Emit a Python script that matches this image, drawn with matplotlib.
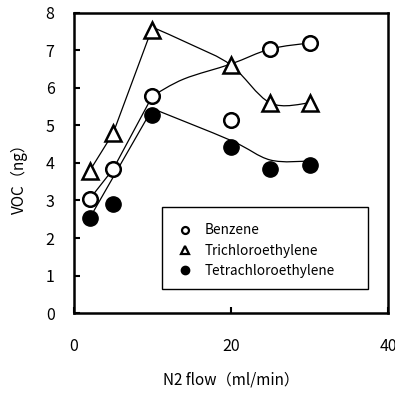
"""
plot.py — VOC recovered vs N2 flow, three compounds with smoothed trend curves.
"""
import matplotlib
matplotlib.use('Agg')
import numpy as np
from matplotlib import pyplot as plt
from matplotlib.path import Path
from matplotlib.patches import PathPatch, Rectangle
from matplotlib.lines import Line2D

plt.rcParams['font.family'] = ['Noto Sans CJK JP', 'DejaVu Sans']

# ------------------------------------------------------------
# Data
# ------------------------------------------------------------
flow = [2, 5, 10, 20, 25, 30]
benzene = [3.04, 3.84, 5.79, 5.15, 7.04, 7.2]
trichloro = [3.79, 4.8, 7.55, 6.61, 5.6, 5.6]
tetrachloro = [2.53, 2.9, 5.28, 4.43, 3.84, 3.95]

# straight segments at low flow
benz_seg_x = [2, 5, 10]
benz_seg_y = [3.04, 3.84, 5.79]
tri_seg_x = [2, 5, 10]
tri_seg_y = [3.79, 4.8, 7.62]
tetra_seg_x = [2, 10]
tetra_seg_y = [2.53, 5.45]

# smoothed trend curves at high flow
benz_fit_x = [10, 14, 20, 25, 30]
benz_fit_y = [5.79, 6.24, 6.64, 7.04, 7.2]
tri_fit_x = [10, 15, 20, 25, 30]
tri_fit_y = [7.62, 7.15, 6.61, 5.6, 5.6]
tetra_fit_x = [10, 20, 25, 30]
tetra_fit_y = [5.45, 4.6, 4.08, 4.05]

labels = ['Benzene', 'Trichloroethylene', 'Tetrachloroethylene']


def smooth_path(xs, ys):
    """Catmull-Rom style cubic Bezier path through the nodes (like Excel smoothing)."""
    pts = np.column_stack([xs, ys]).astype(float)
    n = len(pts)
    verts = [pts[0]]
    codes = [Path.MOVETO]
    for i in range(n - 1):
        p0 = pts[i - 1] if i > 0 else pts[i]
        p1 = pts[i]
        p2 = pts[i + 1]
        p3 = pts[i + 2] if i + 2 < n else pts[i + 1]
        c1 = p1 + (p2 - p0) / 6.0
        c2 = p2 - (p3 - p1) / 6.0
        verts += [c1, c2, p2]
        codes += [Path.CURVE4] * 3
    return Path(verts, codes)


fig = plt.figure(figsize=(3.95, 3.99), dpi=100)
ax = fig.add_axes([0.1873, 0.2155, 0.795, 0.752])

lw = 0.9
ax.plot(benz_seg_x, benz_seg_y, color='black', lw=lw, zorder=2)
ax.plot(tri_seg_x, tri_seg_y, color='black', lw=lw, zorder=2)
ax.plot(tetra_seg_x, tetra_seg_y, color='black', lw=lw, zorder=2)
for fx, fy in [(benz_fit_x, benz_fit_y), (tri_fit_x, tri_fit_y), (tetra_fit_x, tetra_fit_y)]:
    ax.add_patch(PathPatch(smooth_path(fx, fy), facecolor='none',
                           edgecolor='black', lw=lw, zorder=2))

ax.plot(flow, tetrachloro, ls='none', marker='o', ms=11, mfc='black',
        mec='black', mew=1.0, zorder=3)
ax.plot(flow, trichloro, ls='none', marker='^', ms=11, mfc='white',
        mec='black', mew=1.8, zorder=4)
ax.plot(flow, benzene, ls='none', marker='o', ms=10.5, mfc='white',
        mec='black', mew=1.8, zorder=5)

ax.set_xlim(0, 40)
ax.set_ylim(0, 8)
ax.set_xticks([0, 20, 40])
ax.set_yticks(range(0, 9))
ax.tick_params(axis='x', direction='in', length=4, width=1.5, pad=18, labelsize=11.5)
ax.tick_params(axis='y', direction='in', length=4, width=1.5, pad=14, labelsize=11.5)
for sp in ax.spines.values():
    sp.set_linewidth(1.8)

ax.set_xlabel('N2 flow（ml/min）', fontsize=11, labelpad=12)
ax.set_ylabel('VOC（ng）', fontsize=11)
ax.yaxis.set_label_coords(-0.145, 0.46)

# legend box (Excel style: wide frame, entries on the left)
ax.add_patch(Rectangle((0.28, 0.08), 0.656, 0.273, transform=ax.transAxes,
                       facecolor='white', edgecolor='black', lw=1.0, zorder=6))
handles = [
    Line2D([], [], ls='none', marker='o', ms=5, mfc='white', mec='black', mew=1.6),
    Line2D([], [], ls='none', marker='^', ms=5.5, mfc='white', mec='black', mew=1.6),
    Line2D([], [], ls='none', marker='o', ms=6, mfc='black', mec='black'),
]
leg = ax.legend(handles, labels, loc='center left', bbox_to_anchor=(0.33, 0.208),
                fontsize=9.8, frameon=False, borderpad=0, handlelength=1.1,
                handletextpad=0.9, labelspacing=0.45, borderaxespad=0)
leg.set_zorder(7)

plt.savefig('out.png', dpi=100)
plt.close()
